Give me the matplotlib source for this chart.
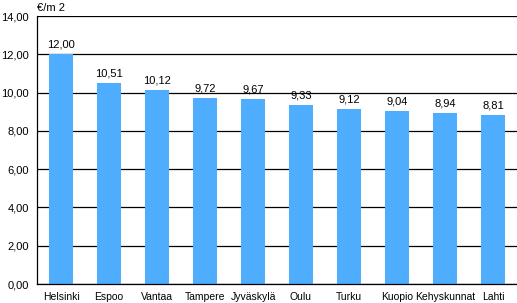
import matplotlib
matplotlib.use("Agg")
from matplotlib import pyplot as plt
from matplotlib.ticker import FuncFormatter

# rent per square metre by city
cities = ["Helsinki", "Espoo", "Vantaa", "Tampere", "Jyväskylä",
          "Oulu", "Turku", "Kuopio", "Kehyskunnat", "Lahti"]
rents = [12.00, 10.51, 10.12, 9.72, 9.67, 9.33, 9.12, 9.04, 8.94, 8.81]
y_ticks = [0, 2, 4, 6, 8, 10, 12, 14]

plt.rcParams['font.family'] = ['Liberation Sans', 'DejaVu Sans']

fig = plt.figure(figsize=(5.17, 3.03), dpi=100)
ax = fig.add_axes([37 / 517, 19 / 303, 480 / 517, 268 / 303])

x = range(len(cities))
ax.bar(x, rents, width=0.48, color="#4FADFF", zorder=2)

for xi, v in zip(x, rents):
  ax.text(xi, v + 0.25, f"{v:.2f}".replace(".", ","), ha="center", va="bottom",
          fontsize=8, color="black")

ax.set_xlim(-0.5, len(cities) - 0.5)
ax.set_ylim(0, 14)
ax.set_yticks(y_ticks)
ax.yaxis.set_major_formatter(FuncFormatter(lambda v, p: f"{v:.2f}".replace(".", ",")))
ax.set_xticks(list(x))
ax.set_xticklabels(cities)
ax.tick_params(axis="x", length=0, labelsize=7.5, pad=6)
ax.tick_params(axis="y", length=0, labelsize=8, pad=6)

ax.yaxis.grid(True, color="black", linewidth=0.9, zorder=1)
ax.set_axisbelow(True)
for side in ["top", "right"]:
  ax.spines[side].set_visible(False)
for side in ["left", "bottom"]:
  ax.spines[side].set_linewidth(0.9)

fig.text(37 / 517, 1 - 8 / 303, "€/m 2", ha="left", va="center", fontsize=8)

fig.savefig("out.png", dpi=100)
